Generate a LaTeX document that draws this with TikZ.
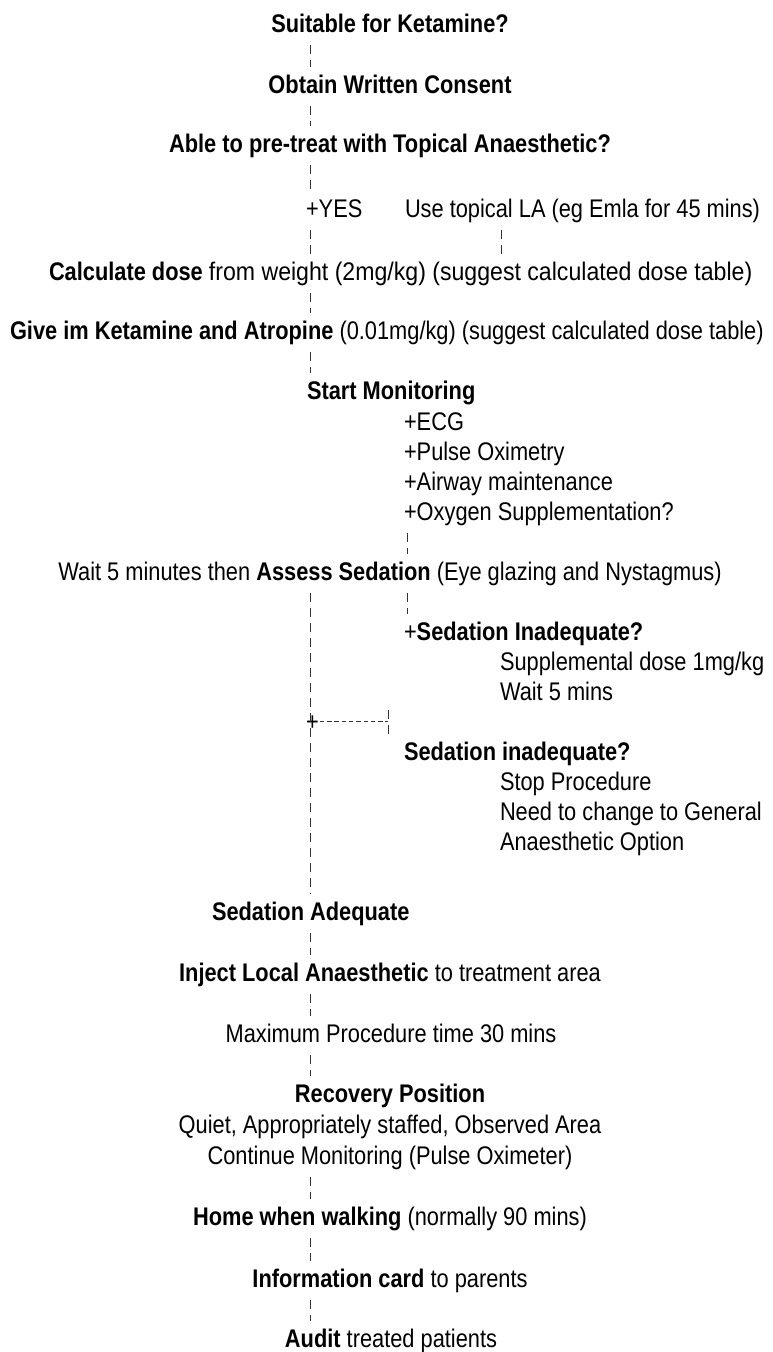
\documentclass[tikz,border=0pt]{standalone}
\usepackage{fontspec}
\setmainfont{Liberation Sans}[FakeStretch=0.855]
\begin{document}
\begin{tikzpicture}[x=1pt,y=-1pt,
  txt/.style={inner sep=0pt, outer sep=0pt, anchor=base west, text height=18pt, text depth=5pt, font=\fontsize{25.5}{30}\selectfont},
  ctr/.style={txt, anchor=base},
  conn/.style={draw=black!80, line width=0.9pt, dash pattern=on 9pt off 6pt, shorten <=8pt, shorten >=8pt},
  hconn/.style={draw=black!80, line width=0.9pt, dash pattern=on 4.5pt off 2.8pt},
]
\useasboundingbox (0,0) rectangle (772,1352);
\coordinate (mx) at (310,0);
\coordinate (sx) at (501,0);
\coordinate (ox) at (407,0);

\node[ctr] (n1) at (390,32) {\textbf{Suitable for Ketamine?}};
\node[ctr] (n2) at (390,93) {\textbf{Obtain Written Consent}};
\node[ctr] (n3) at (390,152) {\textbf{Able to pre-treat with Topical Anaesthetic?}};
\node[txt] (yes) at (306,217) {+YES};
\node[txt] (top) at (405,217) {Use topical LA (eg Emla for 45 mins)};
\node[txt] (calc) at (49,280) {\textbf{Calculate dose} \scalebox{1.06}[1]{from weight (2mg/kg) (suggest calculated dose table)}};
\node[txt] (give) at (10,339) {\textbf{Give im Ketamine and Atropine} (0.01mg/kg) (suggest calculated dose table)};
\node[txt] (start) at (307,399) {\textbf{Start Monitoring}};
\node[txt] (ecg) at (404,430) {+ECG};
\node[txt] (pulse) at (404,460) {+Pulse Oximetry};
\node[txt] (air) at (404,490) {+Airway maintenance};
\node[txt] (oxy) at (404,520) {+Oxygen Supplementation?};
\node[ctr] (wait) at (390,580) {Wait 5 minutes then \textbf{Assess Sedation} (Eye glazing and Nystagmus)};
\node[txt] (sin) at (404,640) {+\textbf{Sedation Inadequate?}};
\node[txt] (supp) at (500,670) {Supplemental dose 1mg/kg};
\node[txt] (w5) at (500,700) {Wait 5 mins};
\node[txt] (plus) at (306,730) {+};
\coordinate (tick) at (388,721.5);
\node[txt] (sin2) at (404,760) {\textbf{Sedation inadequate?}};
\node[txt] (stop) at (500,790) {Stop Procedure};
\node[txt] (need) at (500,820) {Need to change to General};
\node[txt] (opt) at (500,850) {Anaesthetic Option};
\node[txt] (adeq) at (212,920) {\textbf{Sedation Adequate}};
\node[ctr] (inj) at (390,981) {\textbf{Inject Local Anaesthetic} to treatment area};
\node[ctr] (max) at (391,1042) {Maximum Procedure time 30 mins};
\node[ctr] (rec) at (390,1102) {\textbf{Recovery Position}};
\node[ctr] (quiet) at (390,1133) {Quiet, Appropriately staffed, Observed Area};
\node[ctr] (cont) at (390,1164) {Continue Monitoring (Pulse Oximeter)};
\node[ctr] (home) at (390,1225) {\textbf{Home when walking} (normally 90 mins)};
\node[ctr] (info) at (390,1287) {\textbf{Information card} to parents};
\node[ctr] (aud) at (391,1347) {\textbf{Audit} treated patients};

\draw[conn] (n1.south -| mx) -- (n2.north -| mx);
\draw[conn] (n2.south -| mx) -- (n3.north -| mx);
\draw[conn] (n3.south -| mx) -- (yes.north -| mx);
\draw[conn] (yes.south -| mx) -- (calc.north -| mx);
\draw[conn] (top.south -| sx) -- (calc.north -| sx);
\draw[conn] (calc.south -| mx) -- (give.north -| mx);
\draw[conn] (give.south -| mx) -- (start.north -| mx);
\draw[conn] (oxy.south -| ox) -- (wait.north -| ox);
\draw[conn] (wait.south -| ox) -- (sin.north -| ox);
\draw[conn] (wait.south -| mx) -- (adeq.north -| mx);
\draw[hconn] ([xshift=1pt]plus.east |- tick) -- (tick);
\draw[conn, shorten <=0pt, shorten >=0pt] ([yshift=-12pt]tick) -- ([yshift=12pt]tick);
\draw[conn] (adeq.south -| mx) -- (inj.north -| mx);
\draw[conn] (inj.south -| mx) -- (max.north -| mx);
\draw[conn] (max.south -| mx) -- (rec.north -| mx);
\draw[conn] (cont.south -| mx) -- (home.north -| mx);
\draw[conn] (home.south -| mx) -- (info.north -| mx);
\draw[conn] (info.south -| mx) -- (aud.north -| mx);
\end{tikzpicture}
\end{document}
